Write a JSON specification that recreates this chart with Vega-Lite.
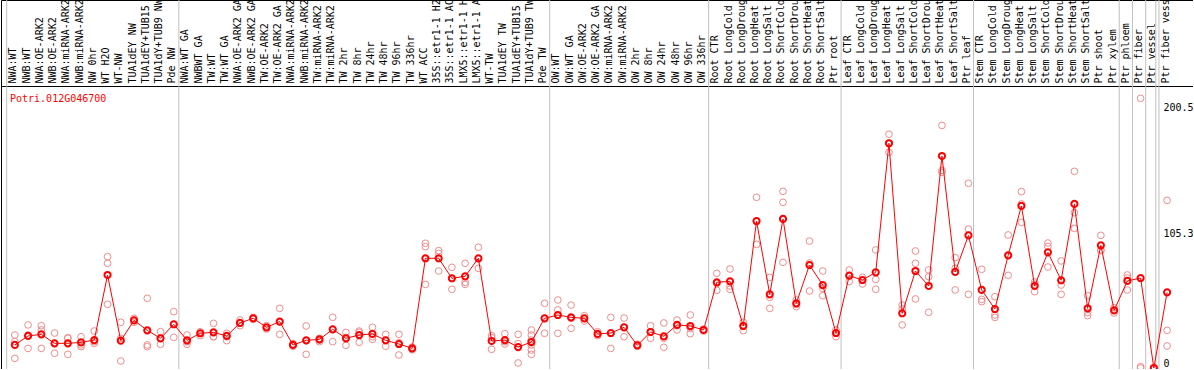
{
  "$schema": "https://vega.github.io/schema/vega-lite/v6.json",
  "width": 1192,
  "height": 369,
  "autosize": {"type": "none"},
  "padding": {"left": 1, "top": 0, "right": 0, "bottom": 0},
  "background": "white",
  "config": {"view": {"stroke": "#000000", "strokeWidth": 1}, "font": "DejaVu Sans Mono"},
  "title": {"text": "Potri.012G046700", "orient": "bottom", "anchor": "start", "frame": "group", "offset": -281, "dx": 9, "baseline": "top", "font": "DejaVu Sans Mono", "fontSize": 10, "fontWeight": "normal", "color": "#ff0000"},
  "datasets": {
    "samples": [
      {"i":1,"sample":"NWA:WT","group":"NW","mean":17.4},
      {"i":2,"sample":"NWB:WT","group":"NW","mean":24.2},
      {"i":3,"sample":"NWA:OE-ARK2","group":"NW","mean":25.4},
      {"i":4,"sample":"NWB:OE-ARK2","group":"NW","mean":18.6},
      {"i":5,"sample":"NWA:miRNA-ARK2","group":"NW","mean":18.6},
      {"i":6,"sample":"NWB:miRNA-ARK2","group":"NW","mean":19.4},
      {"i":7,"sample":"NW 0hr","group":"NW","mean":21.1},
      {"i":8,"sample":"WT H2O","group":"NW","mean":70.2},
      {"i":9,"sample":"WT-NW","group":"NW","mean":20.6},
      {"i":10,"sample":"TUA1dEY NW","group":"NW","mean":36.0},
      {"i":11,"sample":"TUA1dEY+TUB15 NW","group":"NW","mean":28.4},
      {"i":12,"sample":"TUA1dY+TUB9 NW","group":"NW","mean":22.4},
      {"i":13,"sample":"Pde NW","group":"NW","mean":33.0},
      {"i":14,"sample":"NWA:WT GA","group":"TW","mean":20.9},
      {"i":15,"sample":"NWBWT GA","group":"TW","mean":26.2},
      {"i":16,"sample":"TW:WT","group":"TW","mean":26.9},
      {"i":17,"sample":"TW:WT GA","group":"TW","mean":24.2},
      {"i":18,"sample":"NWA:OE-ARK2 GA","group":"TW","mean":34.0},
      {"i":19,"sample":"NWB:OE-ARK2 GA","group":"TW","mean":37.5},
      {"i":20,"sample":"TW:OE-ARK2","group":"TW","mean":30.7},
      {"i":21,"sample":"TW:OE-ARK2 GA","group":"TW","mean":35.0},
      {"i":22,"sample":"NWA:miRNA-ARK2 GA","group":"TW","mean":17.4},
      {"i":23,"sample":"NWB:miRNA-ARK2 GA","group":"TW","mean":20.9},
      {"i":24,"sample":"TW:miRNA-ARK2","group":"TW","mean":21.6},
      {"i":25,"sample":"TW:miRNA-ARK2 GA","group":"TW","mean":29.2},
      {"i":26,"sample":"TW 2hr","group":"TW","mean":22.4},
      {"i":27,"sample":"TW 8hr","group":"TW","mean":24.9},
      {"i":28,"sample":"TW 24hr","group":"TW","mean":25.7},
      {"i":29,"sample":"TW 48hr","group":"TW","mean":20.9},
      {"i":30,"sample":"TW 96hr","group":"TW","mean":18.1},
      {"i":31,"sample":"TW 336hr","group":"TW","mean":14.8},
      {"i":32,"sample":"WT ACC","group":"TW","mean":82.8},
      {"i":33,"sample":"35S::etr1-1 H2O","group":"TW","mean":82.8},
      {"i":34,"sample":"35S::etr1-1 ACC","group":"TW","mean":67.7},
      {"i":35,"sample":"LMX5::etr1-1 H2O","group":"TW","mean":69.2},
      {"i":36,"sample":"LMX5::etr1-1 ACC","group":"TW","mean":82.8},
      {"i":37,"sample":"WT-TW","group":"TW","mean":20.4},
      {"i":38,"sample":"TUA1dEY TW","group":"TW","mean":21.1},
      {"i":39,"sample":"TUA1dEY+TUB15 TW","group":"TW","mean":15.8},
      {"i":40,"sample":"TUA1dY+TUB9 TW","group":"TW","mean":19.6},
      {"i":41,"sample":"Pde TW","group":"TW","mean":37.5},
      {"i":42,"sample":"OW:WT","group":"OW","mean":40.0},
      {"i":43,"sample":"OW:WT GA","group":"OW","mean":38.2},
      {"i":44,"sample":"OW:OE-ARK2","group":"OW","mean":37.5},
      {"i":45,"sample":"OW:OE-ARK2 GA","group":"OW","mean":25.7},
      {"i":46,"sample":"OW:miRNA-ARK2","group":"OW","mean":26.4},
      {"i":47,"sample":"OW:miRNA-ARK2 GA","group":"OW","mean":30.7},
      {"i":48,"sample":"OW 2hr","group":"OW","mean":17.1},
      {"i":49,"sample":"OW 8hr","group":"OW","mean":27.2},
      {"i":50,"sample":"OW 24hr","group":"OW","mean":23.9},
      {"i":51,"sample":"OW 48hr","group":"OW","mean":32.5},
      {"i":52,"sample":"OW 96hr","group":"OW","mean":31.7},
      {"i":53,"sample":"OW 336hr","group":"OW","mean":28.7},
      {"i":54,"sample":"Root CTR","group":"Root","mean":64.7},
      {"i":55,"sample":"Root LongCold","group":"Root","mean":65.4},
      {"i":56,"sample":"Root LongDrought","group":"Root","mean":31.7},
      {"i":57,"sample":"Root LongHeat","group":"Root","mean":110.9},
      {"i":58,"sample":"Root LongSalt","group":"Root","mean":55.6},
      {"i":59,"sample":"Root ShortCold","group":"Root","mean":112.5},
      {"i":60,"sample":"Root ShortDrought","group":"Root","mean":48.8},
      {"i":61,"sample":"Root ShortHeat","group":"Root","mean":77.7},
      {"i":62,"sample":"Root ShortSalt","group":"Root","mean":62.6},
      {"i":63,"sample":"Ptr root","group":"Root","mean":26.4},
      {"i":64,"sample":"Leaf CTR","group":"Leaf","mean":69.7},
      {"i":65,"sample":"Leaf LongCold","group":"Leaf","mean":66.4},
      {"i":66,"sample":"Leaf LongDrought","group":"Leaf","mean":72.2},
      {"i":67,"sample":"Leaf LongHeat","group":"Leaf","mean":169.6},
      {"i":68,"sample":"Leaf LongSalt","group":"Leaf","mean":41.3},
      {"i":69,"sample":"Leaf ShortCold","group":"Leaf","mean":73.2},
      {"i":70,"sample":"Leaf ShortDrought","group":"Leaf","mean":61.9},
      {"i":71,"sample":"Leaf ShortHeat","group":"Leaf","mean":160.0},
      {"i":72,"sample":"Leaf ShortSalt","group":"Leaf","mean":72.5},
      {"i":73,"sample":"Ptr leaf","group":"Leaf","mean":100.1},
      {"i":74,"sample":"Stem CTR","group":"Stem","mean":58.9},
      {"i":75,"sample":"Stem LongCold","group":"Stem","mean":44.5},
      {"i":76,"sample":"Stem LongDrought","group":"Stem","mean":85.0},
      {"i":77,"sample":"Stem LongHeat","group":"Stem","mean":122.3},
      {"i":78,"sample":"Stem LongSalt","group":"Stem","mean":61.9},
      {"i":79,"sample":"Stem ShortCold","group":"Stem","mean":87.3},
      {"i":80,"sample":"Stem ShortDrought","group":"Stem","mean":66.2},
      {"i":81,"sample":"Stem ShortHeat","group":"Stem","mean":123.8},
      {"i":82,"sample":"Stem ShortSalt","group":"Stem","mean":45.0},
      {"i":83,"sample":"Ptr shoot","group":"Stem","mean":92.6},
      {"i":84,"sample":"Ptr xylem","group":"Stem","mean":43.5},
      {"i":85,"sample":"Ptr phloem","group":"Phloem","mean":65.7},
      {"i":86,"sample":"Ptr fiber","group":"Fiber","mean":67.9},
      {"i":87,"sample":"Ptr vessel","group":"Vessel","mean":0},
      {"i":88,"sample":"Ptr fiber vessel","group":"FiberVessel","mean":57.1}
    ],
    "reps": [
      {"sample":"NWA:WT","value":24.9},{"sample":"NWA:WT","value":19.9},{"sample":"NWA:WT","value":7.3},
      {"sample":"NWB:WT","value":32.5},{"sample":"NWB:WT","value":24.9},{"sample":"NWB:WT","value":14.8},
      {"sample":"NWA:OE-ARK2","value":31.9},{"sample":"NWA:OE-ARK2","value":28.7},{"sample":"NWA:OE-ARK2","value":14.8},
      {"sample":"NWB:OE-ARK2","value":26.4},{"sample":"NWB:OE-ARK2","value":18.6},{"sample":"NWB:OE-ARK2","value":11.1},
      {"sample":"NWA:miRNA-ARK2","value":22.9},{"sample":"NWA:miRNA-ARK2","value":22.4},{"sample":"NWA:miRNA-ARK2","value":10.3},
      {"sample":"NWB:miRNA-ARK2","value":23.6},{"sample":"NWB:miRNA-ARK2","value":17.4},{"sample":"NWB:miRNA-ARK2","value":16.1},
      {"sample":"NW 0hr","value":27.9},{"sample":"NW 0hr","value":19.9},{"sample":"NW 0hr","value":18.6},
      {"sample":"WT H2O","value":84.0},{"sample":"WT H2O","value":79.0},{"sample":"WT H2O","value":48.1},
      {"sample":"WT-NW","value":34.5},{"sample":"WT-NW","value":22.4},{"sample":"WT-NW","value":5.3},
      {"sample":"TUA1dEY NW","value":37.5},{"sample":"TUA1dEY NW","value":36.0},{"sample":"TUA1dEY NW","value":34.5},
      {"sample":"TUA1dEY+TUB15 NW","value":52.6},{"sample":"TUA1dEY+TUB15 NW","value":17.4},{"sample":"TUA1dEY+TUB15 NW","value":16.1},
      {"sample":"TUA1dY+TUB9 NW","value":27.4},{"sample":"TUA1dY+TUB9 NW","value":22.4},{"sample":"TUA1dY+TUB9 NW","value":17.9},
      {"sample":"Pde NW","value":42.5},{"sample":"Pde NW","value":33.0},{"sample":"Pde NW","value":23.1},
      {"sample":"NWA:WT GA","value":24.9},{"sample":"NWA:WT GA","value":19.9},{"sample":"NWA:WT GA","value":17.9},
      {"sample":"NWBWT GA","value":27.4},{"sample":"NWBWT GA","value":26.2},{"sample":"NWBWT GA","value":24.4},
      {"sample":"TW:WT","value":33.7},{"sample":"TW:WT","value":23.6},{"sample":"TW:WT","value":23.6},
      {"sample":"TW:WT GA","value":26.2},{"sample":"TW:WT GA","value":23.6},{"sample":"TW:WT GA","value":20.6},
      {"sample":"NWA:OE-ARK2 GA","value":36.2},{"sample":"NWA:OE-ARK2 GA","value":33.7},{"sample":"NWA:OE-ARK2 GA","value":31.9},
      {"sample":"NWB:OE-ARK2 GA","value":38.2},{"sample":"NWB:OE-ARK2 GA","value":37.5},{"sample":"NWB:OE-ARK2 GA","value":36.7},
      {"sample":"TW:OE-ARK2","value":31.9},{"sample":"TW:OE-ARK2","value":30.7},{"sample":"TW:OE-ARK2","value":29.4},
      {"sample":"TW:OE-ARK2 GA","value":45.0},{"sample":"TW:OE-ARK2 GA","value":35.0},{"sample":"TW:OE-ARK2 GA","value":25.4},
      {"sample":"NWA:miRNA-ARK2 GA","value":18.4},{"sample":"NWA:miRNA-ARK2 GA","value":17.4},{"sample":"NWA:miRNA-ARK2 GA","value":16.4},
      {"sample":"NWB:miRNA-ARK2 GA","value":31.7},{"sample":"NWB:miRNA-ARK2 GA","value":20.6},{"sample":"NWB:miRNA-ARK2 GA","value":10.3},
      {"sample":"TW:miRNA-ARK2","value":22.4},{"sample":"TW:miRNA-ARK2","value":21.1},{"sample":"TW:miRNA-ARK2","value":19.9},
      {"sample":"TW:miRNA-ARK2 GA","value":38.2},{"sample":"TW:miRNA-ARK2 GA","value":29.2},{"sample":"TW:miRNA-ARK2 GA","value":19.9},
      {"sample":"TW 2hr","value":26.9},{"sample":"TW 2hr","value":23.1},{"sample":"TW 2hr","value":17.1},
      {"sample":"TW 8hr","value":27.9},{"sample":"TW 8hr","value":26.9},{"sample":"TW 8hr","value":19.4},
      {"sample":"TW 24hr","value":30.7},{"sample":"TW 24hr","value":23.6},{"sample":"TW 24hr","value":21.6},
      {"sample":"TW 48hr","value":25.4},{"sample":"TW 48hr","value":20.9},{"sample":"TW 48hr","value":16.4},
      {"sample":"TW 96hr","value":25.4},{"sample":"TW 96hr","value":19.1},{"sample":"TW 96hr","value":9.8},
      {"sample":"TW 336hr","value":15.8},{"sample":"TW 336hr","value":14.8},{"sample":"TW 336hr","value":13.8},
      {"sample":"WT ACC","value":94.1},{"sample":"WT ACC","value":91.6},{"sample":"WT ACC","value":63.1},
      {"sample":"35S::etr1-1 H2O","value":88.6},{"sample":"35S::etr1-1 H2O","value":86.5},{"sample":"35S::etr1-1 H2O","value":73.2},
      {"sample":"35S::etr1-1 ACC","value":76.0},{"sample":"35S::etr1-1 ACC","value":67.7},{"sample":"35S::etr1-1 ACC","value":59.4},
      {"sample":"LMX5::etr1-1 H2O","value":79.0},{"sample":"LMX5::etr1-1 H2O","value":64.7},{"sample":"LMX5::etr1-1 H2O","value":63.1},
      {"sample":"LMX5::etr1-1 ACC","value":91.1},{"sample":"LMX5::etr1-1 ACC","value":82.3},{"sample":"LMX5::etr1-1 ACC","value":75.2},
      {"sample":"WT-TW","value":24.4},{"sample":"WT-TW","value":22.9},{"sample":"WT-TW","value":14.1},
      {"sample":"TUA1dEY TW","value":25.9},{"sample":"TUA1dEY TW","value":19.9},{"sample":"TUA1dEY TW","value":18.1},
      {"sample":"TUA1dEY+TUB15 TW","value":25.4},{"sample":"TUA1dEY+TUB15 TW","value":18.4},{"sample":"TUA1dEY+TUB15 TW","value":3.8},
      {"sample":"TUA1dY+TUB9 TW","value":28.7},{"sample":"TUA1dY+TUB9 TW","value":24.9},{"sample":"TUA1dY+TUB9 TW","value":21.1},{"sample":"TUA1dY+TUB9 TW","value":17.4},{"sample":"TUA1dY+TUB9 TW","value":13.6},{"sample":"TUA1dY+TUB9 TW","value":10.3},
      {"sample":"Pde TW","value":48.8},{"sample":"Pde TW","value":37.5},{"sample":"Pde TW","value":26.2},
      {"sample":"OW:WT","value":51.3},{"sample":"OW:WT","value":43.8},{"sample":"OW:WT","value":26.2},
      {"sample":"OW:WT GA","value":47.5},{"sample":"OW:WT GA","value":37.5},{"sample":"OW:WT GA","value":29.9},
      {"sample":"OW:OE-ARK2","value":39.5},{"sample":"OW:OE-ARK2","value":37.5},{"sample":"OW:OE-ARK2","value":35.5},
      {"sample":"OW:OE-ARK2 GA","value":27.4},{"sample":"OW:OE-ARK2 GA","value":25.4},{"sample":"OW:OE-ARK2 GA","value":24.4},
      {"sample":"OW:miRNA-ARK2","value":38.2},{"sample":"OW:miRNA-ARK2","value":26.2},{"sample":"OW:miRNA-ARK2","value":14.8},
      {"sample":"OW:miRNA-ARK2 GA","value":37.7},{"sample":"OW:miRNA-ARK2 GA","value":30.7},{"sample":"OW:miRNA-ARK2 GA","value":23.6},
      {"sample":"OW 2hr","value":17.9},{"sample":"OW 2hr","value":17.1},{"sample":"OW 2hr","value":16.4},
      {"sample":"OW 8hr","value":31.9},{"sample":"OW 8hr","value":27.2},{"sample":"OW 8hr","value":22.4},
      {"sample":"OW 24hr","value":34.0},{"sample":"OW 24hr","value":22.4},{"sample":"OW 24hr","value":15.6},
      {"sample":"OW 48hr","value":36.2},{"sample":"OW 48hr","value":31.9},{"sample":"OW 48hr","value":28.7},
      {"sample":"OW 96hr","value":40.0},{"sample":"OW 96hr","value":29.9},{"sample":"OW 96hr","value":25.9},
      {"sample":"OW 336hr","value":29.4},{"sample":"OW 336hr","value":28.7},{"sample":"OW 336hr","value":27.9},
      {"sample":"Root CTR","value":71.4},{"sample":"Root CTR","value":63.9},{"sample":"Root CTR","value":58.6},
      {"sample":"Root LongCold","value":74.7},{"sample":"Root LongCold","value":61.9},{"sample":"Root LongCold","value":59.4},
      {"sample":"Root LongDrought","value":34.5},{"sample":"Root LongDrought","value":31.9},{"sample":"Root LongDrought","value":28.2},
      {"sample":"Root LongHeat","value":128.8},{"sample":"Root LongHeat","value":110.9},{"sample":"Root LongHeat","value":93.3},
      {"sample":"Root LongSalt","value":68.4},{"sample":"Root LongSalt","value":53.3},{"sample":"Root LongSalt","value":45.0},
      {"sample":"Root ShortCold","value":133.3},{"sample":"Root ShortCold","value":125.0},{"sample":"Root ShortCold","value":79.7},
      {"sample":"Root ShortDrought","value":51.3},{"sample":"Root ShortDrought","value":48.1},{"sample":"Root ShortDrought","value":46.3},
      {"sample":"Root ShortHeat","value":95.8},{"sample":"Root ShortHeat","value":79.2},{"sample":"Root ShortHeat","value":58.1},
      {"sample":"Root ShortSalt","value":73.2},{"sample":"Root ShortSalt","value":60.1},{"sample":"Root ShortSalt","value":54.6},
      {"sample":"Ptr root","value":28.7},{"sample":"Ptr root","value":26.2},{"sample":"Ptr root","value":23.6},
      {"sample":"Leaf CTR","value":74.0},{"sample":"Leaf CTR","value":69.7},{"sample":"Leaf CTR","value":65.2},
      {"sample":"Leaf LongCold","value":68.4},{"sample":"Leaf LongCold","value":66.4},{"sample":"Leaf LongCold","value":63.4},
      {"sample":"Leaf LongDrought","value":89.1},{"sample":"Leaf LongDrought","value":66.9},{"sample":"Leaf LongDrought","value":59.4},
      {"sample":"Leaf LongHeat","value":176.4},{"sample":"Leaf LongHeat","value":169.6},{"sample":"Leaf LongHeat","value":162.8},
      {"sample":"Leaf LongSalt","value":47.5},{"sample":"Leaf LongSalt","value":44.5},{"sample":"Leaf LongSalt","value":32.5},
      {"sample":"Leaf ShortCold","value":88.3},{"sample":"Leaf ShortCold","value":79.0},{"sample":"Leaf ShortCold","value":52.1},
      {"sample":"Leaf ShortDrought","value":74.0},{"sample":"Leaf ShortDrought","value":68.9},{"sample":"Leaf ShortDrought","value":42.0},
      {"sample":"Leaf ShortHeat","value":183.1},{"sample":"Leaf ShortHeat","value":149.2},{"sample":"Leaf ShortHeat","value":147.7},
      {"sample":"Leaf ShortSalt","value":83.3},{"sample":"Leaf ShortSalt","value":75.2},{"sample":"Leaf ShortSalt","value":58.9},
      {"sample":"Ptr leaf","value":139.4},{"sample":"Ptr leaf","value":104.9},{"sample":"Ptr leaf","value":55.6},
      {"sample":"Stem CTR","value":74.5},{"sample":"Stem CTR","value":51.8},{"sample":"Stem CTR","value":50.1},
      {"sample":"Stem LongCold","value":53.8},{"sample":"Stem LongCold","value":40.0},{"sample":"Stem LongCold","value":38.2},
      {"sample":"Stem LongDrought","value":100.4},{"sample":"Stem LongDrought","value":85.0},{"sample":"Stem LongDrought","value":69.9},
      {"sample":"Stem LongHeat","value":133.1},{"sample":"Stem LongHeat","value":123.8},{"sample":"Stem LongHeat","value":109.9},
      {"sample":"Stem LongSalt","value":64.9},{"sample":"Stem LongSalt","value":63.1},{"sample":"Stem LongSalt","value":57.6},
      {"sample":"Stem ShortCold","value":94.3},{"sample":"Stem ShortCold","value":91.6},{"sample":"Stem ShortCold","value":76.2},
      {"sample":"Stem ShortDrought","value":80.8},{"sample":"Stem ShortDrought","value":62.6},{"sample":"Stem ShortDrought","value":55.6},
      {"sample":"Stem ShortHeat","value":148.4},{"sample":"Stem ShortHeat","value":117.2},{"sample":"Stem ShortHeat","value":105.4},
      {"sample":"Stem ShortSalt","value":54.6},{"sample":"Stem ShortSalt","value":41.8},{"sample":"Stem ShortSalt","value":39.5},
      {"sample":"Ptr shoot","value":100.1},{"sample":"Ptr shoot","value":89.1},{"sample":"Ptr shoot","value":88.6},
      {"sample":"Ptr xylem","value":45.5},{"sample":"Ptr xylem","value":43.5},{"sample":"Ptr xylem","value":41.5},
      {"sample":"Ptr phloem","value":70.2},{"sample":"Ptr phloem","value":67.9},{"sample":"Ptr phloem","value":58.9},
      {"sample":"Ptr fiber","value":203.5},{"sample":"Ptr fiber","value":1.0},{"sample":"Ptr fiber","value":0},
      {"sample":"Ptr vessel","value":0},{"sample":"Ptr vessel","value":0},{"sample":"Ptr vessel","value":0},
      {"sample":"Ptr fiber vessel","value":126.5},{"sample":"Ptr fiber vessel","value":28.4},{"sample":"Ptr fiber vessel","value":16.6}
    ]
  },
  "layer": [
    {
      "data": {"name": "samples"},
      "transform": [
        {"window": [{"op": "row_number", "as": "k"}], "groupby": ["group"], "sort": [{"field": "i"}]},
        {"filter": "datum.k == 1"}
      ],
      "mark": {"type": "rule", "color": "#c0c0c0", "strokeWidth": 1},
      "encoding": {
        "x": {
          "field": "sample", "type": "nominal", "bandPosition": 0,
          "scale": {
            "type": "band", "paddingInner": 0, "paddingOuter": 1.846, "align": 0.2146,
            "domain": ["NWA:WT","NWB:WT","NWA:OE-ARK2","NWB:OE-ARK2","NWA:miRNA-ARK2","NWB:miRNA-ARK2","NW 0hr","WT H2O","WT-NW","TUA1dEY NW","TUA1dEY+TUB15 NW","TUA1dY+TUB9 NW","Pde NW","NWA:WT GA","NWBWT GA","TW:WT","TW:WT GA","NWA:OE-ARK2 GA","NWB:OE-ARK2 GA","TW:OE-ARK2","TW:OE-ARK2 GA","NWA:miRNA-ARK2 GA","NWB:miRNA-ARK2 GA","TW:miRNA-ARK2","TW:miRNA-ARK2 GA","TW 2hr","TW 8hr","TW 24hr","TW 48hr","TW 96hr","TW 336hr","WT ACC","35S::etr1-1 H2O","35S::etr1-1 ACC","LMX5::etr1-1 H2O","LMX5::etr1-1 ACC","WT-TW","TUA1dEY TW","TUA1dEY+TUB15 TW","TUA1dY+TUB9 TW","Pde TW","OW:WT","OW:WT GA","OW:OE-ARK2","OW:OE-ARK2 GA","OW:miRNA-ARK2","OW:miRNA-ARK2 GA","OW 2hr","OW 8hr","OW 24hr","OW 48hr","OW 96hr","OW 336hr","Root CTR","Root LongCold","Root LongDrought","Root LongHeat","Root LongSalt","Root ShortCold","Root ShortDrought","Root ShortHeat","Root ShortSalt","Ptr root","Leaf CTR","Leaf LongCold","Leaf LongDrought","Leaf LongHeat","Leaf LongSalt","Leaf ShortCold","Leaf ShortDrought","Leaf ShortHeat","Leaf ShortSalt","Ptr leaf","Stem CTR","Stem LongCold","Stem LongDrought","Stem LongHeat","Stem LongSalt","Stem ShortCold","Stem ShortDrought","Stem ShortHeat","Stem ShortSalt","Ptr shoot","Ptr xylem","Ptr phloem","Ptr fiber","Ptr vessel","Ptr fiber vessel"]
          },
          "axis": {
            "orient": "top", "offset": -86, "title": null, "ticks": false, "tickSize": 0, "grid": false,
            "domain": true, "domainColor": "#000000", "domainWidth": 1,
            "labelAngle": 270, "labelAlign": "left", "labelBaseline": "middle", "labelPadding": 3,
            "labelExpr": "slice(datum.label, 0, 14)",
            "labelFont": "DejaVu Sans Mono", "labelFontSize": 10, "labelColor": "#000000",
            "labelOverlap": false, "labelLimit": 0, "bandPosition": 0.6
          }
        }
      }
    },
    {
      "mark": {"type": "rule", "color": "#c0c0c0", "strokeWidth": 1},
      "encoding": {"y": {"datum": 105.3, "type": "quantitative"}}
    },
    {
      "data": {"name": "reps"},
      "mark": {"type": "point", "shape": "circle", "filled": false, "color": "#f08c8c", "strokeWidth": 1, "size": 45, "opacity": 1},
      "encoding": {
        "x": {"field": "sample", "type": "nominal", "bandPosition": 0.615},
        "y": {
          "field": "value", "type": "quantitative",
          "scale": {"domain": [-0.75, 277.7], "nice": false, "zero": false},
          "axis": {
            "orient": "right", "offset": -37.7, "title": null, "values": [0, 105.3, 200.5], "format": ".1~f",
            "grid": false, "ticks": false, "tickSize": 0,
            "domain": true, "domainColor": "#c0c0c0", "domainWidth": 1,
            "labelAlign": "left", "labelPadding": 7.7, "labelFlush": false, "labelOverlap": false,
            "labelBaseline": {"condition": {"test": "datum.value == 0", "value": "bottom"}, "value": "top"},
            "labelFont": "DejaVu Sans Mono", "labelFontSize": 10, "labelColor": "#000000"
          }
        }
      }
    },
    {
      "data": {"name": "samples"},
      "mark": {"type": "line", "color": "#ff0000", "strokeWidth": 1},
      "encoding": {
        "x": {"field": "sample", "type": "nominal", "bandPosition": 0.615},
        "y": {"field": "mean", "type": "quantitative"},
        "order": {"field": "i", "type": "quantitative"}
      }
    },
    {
      "data": {"name": "samples"},
      "mark": {"type": "point", "shape": "circle", "filled": false, "color": "#ff0000", "strokeWidth": 2, "size": 38, "opacity": 1},
      "encoding": {
        "x": {"field": "sample", "type": "nominal", "bandPosition": 0.615},
        "y": {"field": "mean", "type": "quantitative"}
      }
    }
  ]
}
